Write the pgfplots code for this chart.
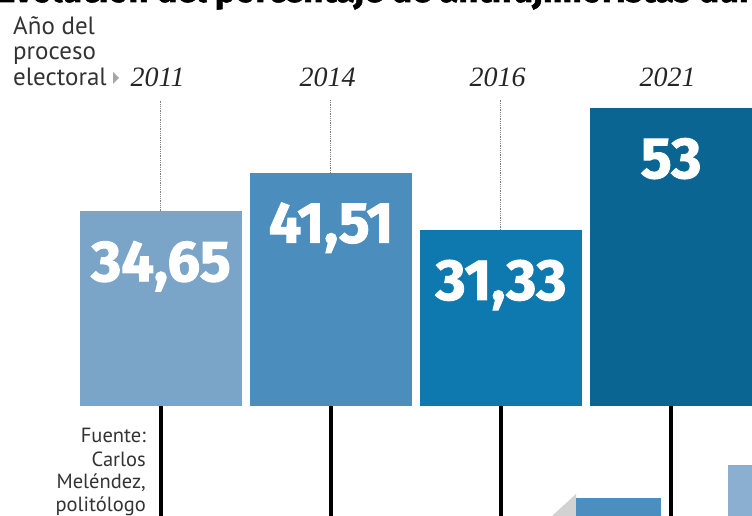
\documentclass[border=0pt]{standalone}
\usepackage{pgfplots}
\pgfplotsset{compat=1.18}
\usepackage{fontspec}
\setmainfont{PT Sans}
\newfontfamily\numfont[FakeBold=1.6]{Fira Sans Bold}
\newfontfamily\yearfont{Liberation Serif}
\newfontfamily\titlefont[FakeBold=1.5]{Fira Sans Bold}

\definecolor{barA}{HTML}{7AA5C9}
\definecolor{barB}{HTML}{4B8EBD}
\definecolor{barC}{HTML}{0E79AF}
\definecolor{barD}{HTML}{0A6592}
\definecolor{txt}{HTML}{333333}
\definecolor{photo}{HTML}{4D8EC0}
\definecolor{photoB}{HTML}{8AAFD0}

\pgfplotsset{
  valbar/.style={ybar, bar width=162pt, bar shift=0pt, draw=none, fill=#1,
    point meta=explicit symbolic, nodes near coords,
    every node near coord/.style={anchor=base, yshift=-70pt, text=white,
      font=\numfont\fontsize{58}{60}\selectfont}},
  guide/.style={black, line width=4pt},
  dots/.style={gray, densely dotted, line width=0.8pt},
}

\begin{document}
\begin{tikzpicture}
\useasboundingbox (0,0) rectangle (752pt,516pt);
\clip (0,0) rectangle (752pt,516pt);

% photo fragments at the bottom
\fill[gray!35] (552pt,0) -- (576pt,0) -- (576pt,22pt) -- cycle;
\fill[photo] (576pt,0) rectangle (661pt,18pt);
\fill[photoB] (728pt,0) rectangle (752pt,51pt);

\begin{axis}[
  at={(0,0)}, anchor=south west,
  scale only axis, width=752pt, height=516pt,
  xmin=-0.947, xmax=3.476,
  ymin=-19.57, ymax=72.24,
  hide axis, clip=false,
]
% lines under the bars
\addplot[guide] coordinates {(0,0) (0,-25)};
\addplot[guide] coordinates {(1,0) (1,-25)};
\addplot[guide] coordinates {(2,0) (2,-25)};
\addplot[guide] coordinates {(3,0) (3,-25)};

% dotted leaders from the years
\addplot[dots] coordinates {(-0.006,34.65) (-0.006,54.4)};
\addplot[dots] coordinates {(0.994,41.51) (0.994,54.4)};
\addplot[dots] coordinates {(1.994,31.33) (1.994,54.4)};

\addplot[valbar=barA] coordinates {(0,34.65)[34,65]};
\addplot[valbar=barB] coordinates {(1,41.51)[41,51]};
\addplot[valbar=barC] coordinates {(2,31.33)[31,33]};
\addplot[valbar=barD] coordinates {(3,53)[53]};

\foreach \x/\yr in {0/2011,1/2014,2/2016,3/2021} {
  \edef\tmp{\noexpand\node[text=black!85, font=\noexpand\yearfont\noexpand\itshape\noexpand\fontsize{28}{30}\noexpand\selectfont]
    at (axis cs:\x-0.02,58.4) {\yr};}
  \tmp
}
\end{axis}

% cropped title
\node[anchor=base west, inner sep=0pt, text=black] at (-3pt,514pt)
  {\titlefont\fontsize{34.5}{36}\selectfont Evolución del porcentaje de antifujimoristas durante};

% axis caption on the left
\begin{scope}[every node/.style={anchor=base west, inner sep=0pt, text=txt, font=\fontsize{25}{27}\selectfont}]
\node at (13pt,481pt) {Año del};
\node at (13pt,456pt) {proceso};
\node at (13pt,430pt) {electoral};
\end{scope}
\fill[gray!70] (113pt,432pt) -- (119pt,438pt) -- (113pt,444pt) -- cycle;

% source
\begin{scope}[every node/.style={anchor=base east, inner sep=0pt, text=txt, font=\fontsize{20.5}{22}\selectfont}]
\node at (146pt,73pt) {Fuente:};
\node at (146pt,49pt) {Carlos};
\node at (146pt,27pt) {Meléndez,};
\node at (146pt,4pt) {politólogo};
\end{scope}
\end{tikzpicture}
\end{document}
